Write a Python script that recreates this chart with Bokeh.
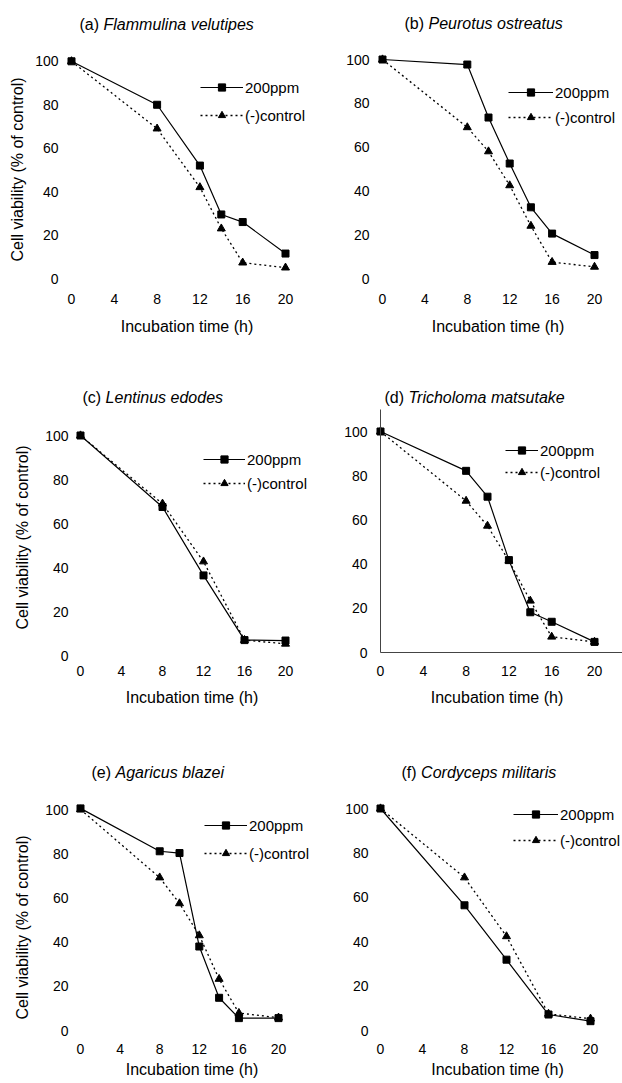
from bokeh.plotting import figure
from bokeh.layouts import column, row
from bokeh.models import Label, Legend, LegendItem, FixedTicker, LinearAxis, Title
from bokeh.embed import file_html
from bokeh.resources import INLINE

FONT = "Liberation Sans"

# ---------------- data ----------------
x_ticks = [0, 4, 8, 12, 16, 20]
y_ticks = [0, 20, 40, 60, 80, 100]
series_names = ["200ppm", "(-)control"]
x_axis_title = "Incubation time (h)"
y_axis_title = "Cell viability (% of control)"

letters = ["(a)", "(b)", "(c)", "(d)", "(e)", "(f)"]
species = ["Flammulina velutipes", "Peurotus ostreatus", "Lentinus edodes",
           "Tricholoma matsutake", "Agaricus blazei", "Cordyceps militaris"]

a_t200 = [0, 8, 12, 14, 16, 20]
a_v200 = [100, 80, 52, 29.5, 26, 11.5]
a_tctl = [0, 8, 12, 14, 16, 20]
a_vctl = [100, 69, 42, 23, 7.3, 5]

b_t200 = [0, 8, 10, 12, 14, 16, 20]
b_v200 = [100, 97.7, 73.5, 52.5, 32.5, 20.5, 10.7]
b_tctl = [0, 8, 10, 12, 14, 16, 20]
b_vctl = [100, 69, 58, 42.5, 24, 7.5, 5.3]

c_t200 = [0, 8, 12, 16, 20]
c_v200 = [100, 67.5, 36.4, 7, 6.8]
c_tctl = [0, 8, 12, 16, 20]
c_vctl = [100, 69, 42.7, 7, 5.3]

d_t200 = [0, 8, 10, 12, 14, 16, 20]
d_v200 = [100, 82.2, 70.5, 41.8, 18.2, 13.9, 4.8]
d_tctl = [0, 8, 10, 12, 14, 16, 20]
d_vctl = [100, 68.6, 57.3, 41.5, 23.4, 7.1, 4.8]

e_t200 = [0, 8, 10, 12, 14, 16, 20]
e_v200 = [100.5, 81.1, 80.3, 38, 14.8, 5.6, 5.6]
e_tctl = [0, 8, 10, 12, 14, 16, 20]
e_vctl = [100, 69.2, 57.5, 43, 23.3, 7.9, 5.8]

f_t200 = [0, 8, 12, 16, 20]
f_v200 = [100, 56.4, 31.9, 7.2, 4.2]
f_tctl = [0, 8, 12, 16, 20]
f_vctl = [100, 68.9, 42.4, 7.5, 5.3]

panel_data = [
    (a_t200, a_v200, a_tctl, a_vctl),
    (b_t200, b_v200, b_tctl, b_vctl),
    (c_t200, c_v200, c_tctl, c_vctl),
    (d_t200, d_v200, d_tctl, d_vctl),
    (e_t200, e_v200, e_tctl, e_vctl),
    (f_t200, f_v200, f_tctl, f_vctl),
]

# ---------------- layout (page pixels) ----------------
ROW_TOP = [0, 372, 747]
ROW_H = [372, 375, 336]
COL_LEFT = [0, 311]
FIG_W = 311

# frame left/top/bottom, pixel positions of x=0, x=20, y=0, y=100,
# title start/centre, italic offset, legend glyph left, entry centres, glyph width,
# y-label offset along the axis and standoff
geo = [
    dict(fl=62, ft=8, fb=290, x0p=71, x20p=285, y0p=279, y100p=61,
         tx=79, ty=25, toff=24.0, lx=200, e1=88, e2=116, gw=43, yoff=28, ysd=12),
    dict(fl=373, ft=8, fb=289, x0p=382, x20p=594, y0p=278, y100p=59,
         tx=404, ty=23, toff=24.0, lx=508, e1=92, e2=117, gw=45, yoff=0, ysd=0),
    dict(fl=72, ft=380, fb=661, x0p=80, x20p=285, y0p=655, y100p=435,
         tx=82, ty=397, toff=23.1, lx=203, e1=459, e2=483, gw=42, yoff=32, ysd=22),
    dict(fl=371, ft=380, fb=661, x0p=380, x20p=594, y0p=652, y100p=431,
         tx=384, ty=397, toff=24.0, lx=505, e1=450, e2=472, gw=33, yoff=0, ysd=0),
    dict(fl=72, ft=755, fb=1040, x0p=80, x20p=278, y0p=1030, y100p=809,
         tx=91, ty=772, toff=24.0, lx=204, e1=825, e2=853, gw=43, yoff=21, ysd=22),
    dict(fl=372, ft=755, fb=1040, x0p=380, x20p=590, y0p=1030, y100p=808,
         tx=401, ty=772, toff=19.6, lx=513, e1=814, e2=840, gw=45, yoff=0, ysd=0),
]
tick_standoff = [4, 4, 3]
xlabel_standoff = [11, 10, 4]

figs = []
for i in range(6):
    r, c = divmod(i, 2)
    g = geo[i]
    t200, v200, tctl, vctl = panel_data[i]
    H = ROW_H[r]
    fr = COL_LEFT[c] + FIG_W
    sx = (g["x20p"] - g["x0p"]) / 20.0
    sy = (g["y0p"] - g["y100p"]) / 100.0
    x_range = ((g["fl"] - g["x0p"]) / sx, (fr - g["x0p"]) / sx)
    y_range = ((g["y0p"] - g["fb"]) / sy, (g["y0p"] - g["ft"]) / sy)

    p = figure(width=FIG_W, height=H, x_range=x_range, y_range=y_range,
               min_border_left=g["fl"] - COL_LEFT[c], min_border_right=0,
               min_border_top=g["ft"] - ROW_TOP[r],
               min_border_bottom=ROW_TOP[r] + H - g["fb"],
               output_backend="svg", toolbar_location=None, title=None)
    p.outline_line_color = None
    p.grid.visible = False
    p.background_fill_color = "white"
    p.border_fill_color = "white"

    for ax in (p.xaxis[0], p.yaxis[0]):
        ax.axis_line_color = None
        ax.major_tick_line_color = None
        ax.minor_tick_line_color = None
        ax.major_tick_out = 0
        ax.major_tick_in = 0
        ax.major_label_text_font = FONT
        ax.major_label_text_font_size = "14px"
        ax.major_label_text_color = "black"
        ax.axis_label_text_font = FONT
        ax.axis_label_text_font_style = "normal"
        ax.axis_label_text_color = "black"
    p.xaxis.ticker = FixedTicker(ticks=x_ticks)
    p.yaxis.ticker = FixedTicker(ticks=y_ticks)
    p.xaxis.major_label_standoff = tick_standoff[r]
    p.yaxis.major_label_standoff = 4
    p.xaxis.axis_label = x_axis_title
    p.xaxis.axis_label_text_font_size = "16px"
    p.xaxis.axis_label_standoff = xlabel_standoff[r]
    if c == 0:
        p.add_layout(Title(text=y_axis_title, align="left", offset=g["yoff"],
                           vertical_align="middle", standoff=g["ysd"],
                           text_font=FONT, text_font_size="16px",
                           text_font_style="normal", text_color="black"), "left")

    if i == 3:
        # visible axis lines crossing at the origin (panel d only)
        yline = LinearAxis(fixed_location=0, bounds=(0, 110),
                           ticker=FixedTicker(ticks=[]),
                           axis_line_color="#444444", axis_line_width=1,
                           major_tick_line_color=None, minor_tick_line_color=None)
        xline = LinearAxis(fixed_location=0, bounds=(0, x_range[1]),
                           ticker=FixedTicker(ticks=[]),
                           axis_line_color="#444444", axis_line_width=1,
                           major_tick_line_color=None, minor_tick_line_color=None)
        p.add_layout(yline, "left")
        p.add_layout(xline, "below")

    l1 = p.line(t200, v200, line_color="black", line_width=1.2)
    s1 = p.scatter(t200, v200, marker="square", size=7, color="black")
    l2 = p.line(tctl, vctl, line_color="black", line_width=1.3, line_dash="2 3")
    s2 = p.scatter(tctl, vctl, marker="triangle", size=8, color="black")

    lh = 18
    spacing = (g["e2"] - g["e1"]) - lh
    leg_h = 2 * lh + spacing
    leg_top = g["e1"] - lh / 2
    vx = g["lx"] - g["fl"]
    vy = g["fb"] - (leg_top + leg_h)
    legend = Legend(items=[LegendItem(label=series_names[0], renderers=[l1, s1]),
                           LegendItem(label=series_names[1], renderers=[l2, s2])],
                    location=(vx, vy), padding=0, margin=0, spacing=spacing,
                    label_height=lh, glyph_height=lh, glyph_width=g["gw"],
                    label_standoff=2, border_line_color=None,
                    background_fill_alpha=0, label_text_font=FONT,
                    label_text_font_size="15px", label_text_color="black")
    p.add_layout(legend)

    ty = g["fb"] - g["ty"]
    tx = g["tx"] - g["fl"]
    p.add_layout(Label(x=tx, y=ty, x_units="screen", y_units="screen", text=letters[i],
                       text_font=FONT, text_font_size="16px", text_baseline="middle",
                       text_align="left", text_color="black"))
    p.add_layout(Label(x=tx + g["toff"], y=ty, x_units="screen", y_units="screen",
                       text=species[i], text_font=FONT, text_font_size="16px",
                       text_font_style="italic", text_baseline="middle",
                       text_align="left", text_color="black"))
    figs.append(p)

layout = column(row(figs[0], figs[1]), row(figs[2], figs[3]), row(figs[4], figs[5]))
open("out.html", "w").write(file_html(layout, INLINE))
